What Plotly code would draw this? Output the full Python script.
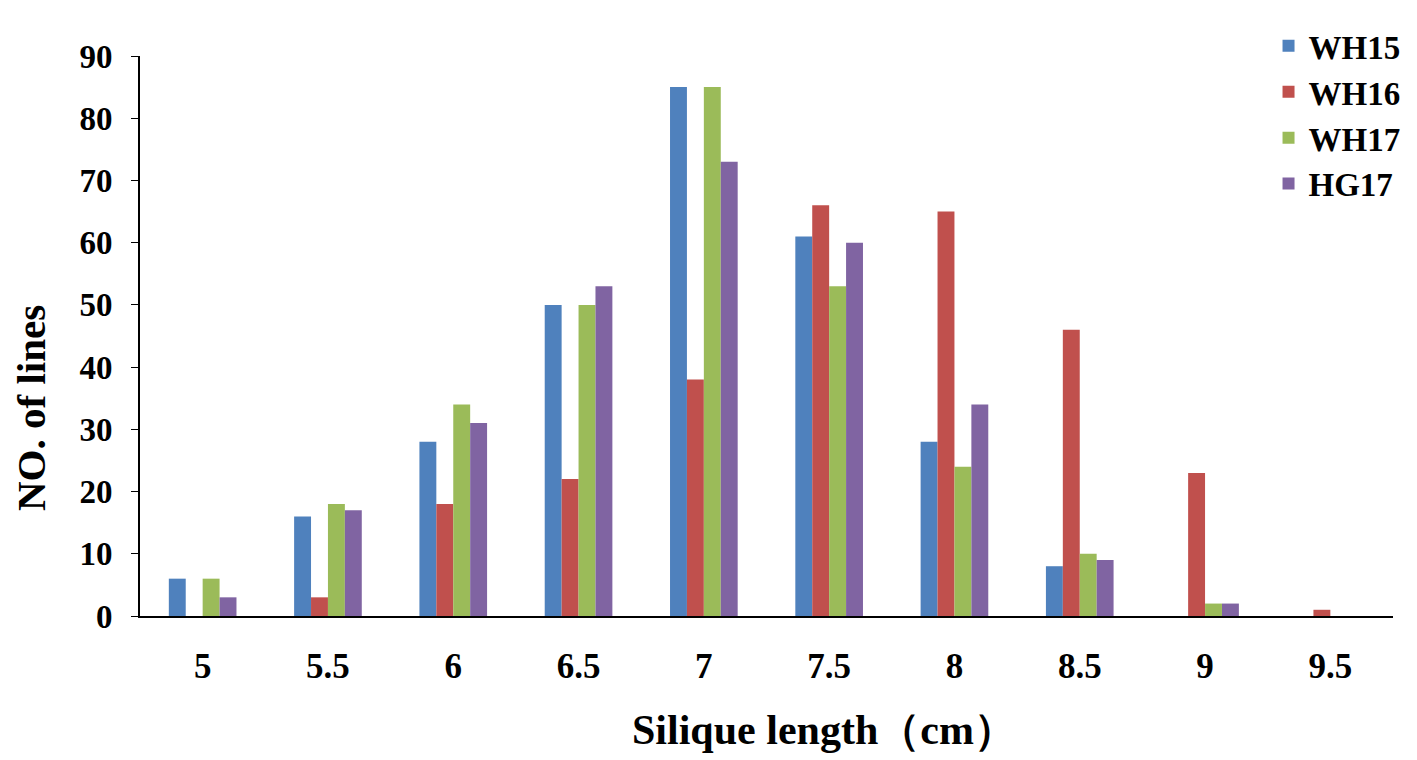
import plotly.graph_objects as go

# silique length classes (cm)
lengths = ["5", "5.5", "6", "6.5", "7", "7.5", "8", "8.5", "9", "9.5"]

# number of lines per class
wh15 = [6, 16, 28, 50, 85, 61, 28, 8, 0, 0]
wh16 = [0, 3, 18, 22, 38, 66, 65, 46, 23, 1]
wh17 = [6, 18, 34, 50, 85, 53, 24, 10, 2, 0]
hg17 = [3, 17, 31, 53, 73, 60, 34, 9, 2, 0]

series = [
    ("WH15", wh15, "#4F81BD"),
    ("WH16", wh16, "#C0504D"),
    ("WH17", wh17, "#9BBB59"),
    ("HG17", hg17, "#8064A2"),
]

font_family = "Liberation Serif, Times New Roman, serif"

fig = go.Figure()
for name, vals, col in series:
    fig.add_trace(go.Bar(
        x=lengths, y=vals, name=name,
        marker=dict(color=col, line=dict(width=0)),
    ))

# page body has an 8px margin, so figure is a bit smaller than the window
fig.update_layout(
    width=1409, height=752,
    paper_bgcolor="white", plot_bgcolor="white",
    barmode="group", bargap=0.46, bargroupgap=0,
    margin=dict(l=132, r=24, t=48, b=144, autoexpand=False),
    font=dict(family=font_family, color="black"),
    legend=dict(
        x=1.01, xanchor="right", y=1.068, yanchor="top",
        font=dict(size=33, family=font_family, weight="bold"),
        itemwidth=30, tracegroupgap=0,
        bgcolor="rgba(0,0,0,0)",
    ),
    showlegend=True,
)

# axis titles as annotations, the original sits off-centre
fig.add_annotation(
    text="Silique length（cm）", xref="paper", yref="paper",
    x=0.5, y=0, xanchor="center", yanchor="middle",
    xshift=57, yshift=-114, showarrow=False,
    font=dict(size=42, family=font_family, weight="bold"),
)
fig.add_annotation(
    text="NO. of lines", xref="paper", yref="paper", textangle=-90,
    x=0, y=0.5, xanchor="center", yanchor="middle",
    xshift=-109, yshift=-72, showarrow=False,
    font=dict(size=41, family=font_family, weight="bold"),
)

fig.update_xaxes(
    showline=True, linecolor="black", linewidth=2,
    showgrid=False, ticks="",
    tickfont=dict(size=35, family=font_family, weight="bold"),
    ticklabelstandoff=18,
)
fig.update_yaxes(
    range=[0, 90], dtick=10,
    showline=True, linecolor="black", linewidth=2,
    showgrid=False, ticks="outside", ticklen=7, tickcolor="black",
    tickfont=dict(size=33, family=font_family, weight="bold"),
    ticklabelstandoff=12,
    zeroline=False,
)

fig.write_html("out.html")
